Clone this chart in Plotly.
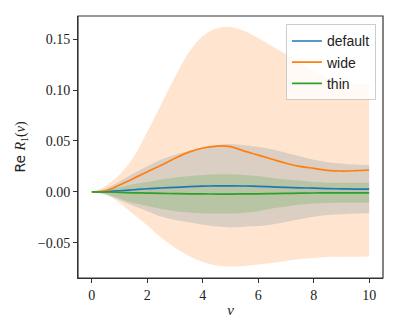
import plotly.graph_objects as go

# nu grid
nu = [0.0, 0.5, 1.0, 1.5, 2.0, 2.5, 3.0, 3.5, 4.0, 4.5, 5.0,
      5.5, 6.0, 6.5, 7.0, 7.5, 8.0, 8.5, 9.0, 9.5, 10.0]

# mean curves
default_mean = [0.0, 0.0002, 0.001, 0.002, 0.003, 0.0037, 0.0043, 0.005, 0.0055, 0.0058, 0.0059,
                0.0057, 0.0053, 0.0048, 0.0043, 0.0039, 0.0035, 0.0031, 0.0029, 0.0027, 0.0026]
wide_mean = [0.0, 0.001, 0.0066, 0.013, 0.0197, 0.026, 0.033, 0.039, 0.043, 0.0449, 0.0443,
             0.040, 0.036, 0.032, 0.028, 0.025, 0.023, 0.021, 0.0204, 0.0207, 0.0214]
thin_mean = [0.0, -0.0002, -0.0006, -0.001, -0.0013, -0.0016, -0.0018, -0.002, -0.0021, -0.0022, -0.0022,
             -0.0021, -0.002, -0.0018, -0.0016, -0.0014, -0.0012, -0.0011, -0.001, -0.001, -0.001]

# band edges
default_upper = [0.0, 0.0032, 0.010, 0.018, 0.025, 0.0317, 0.0363, 0.040, 0.0435, 0.0458, 0.0469,
                 0.0457, 0.0443, 0.0418, 0.0383, 0.0349, 0.0315, 0.0291, 0.0279, 0.0267, 0.0263]
default_lower = [0.0, -0.0028, -0.008, -0.014, -0.019, -0.0243, -0.0277, -0.030, -0.0325, -0.0342, -0.0351,
                 -0.0343, -0.0337, -0.0322, -0.0297, -0.0271, -0.0245, -0.0229, -0.0221, -0.0213, -0.0211]
wide_upper = [0.0, 0.006, 0.017, 0.034, 0.059, 0.086, 0.113, 0.137, 0.153, 0.1605, 0.1617,
              0.158, 0.151, 0.143, 0.135, 0.127, 0.119, 0.112, 0.108, 0.106, 0.106]
wide_lower = [0.0, -0.003, -0.011, -0.022, -0.033, -0.045, -0.055, -0.063, -0.069, -0.0725, -0.0735,
              -0.073, -0.0715, -0.070, -0.068, -0.066, -0.065, -0.064, -0.064, -0.0638, -0.0635]
thin_upper = [0.0, 0.0015, 0.0045, 0.0075, 0.0095, 0.012, 0.014, 0.0155, 0.0165, 0.0172, 0.0172,
              0.0165, 0.0155, 0.0135, 0.012, 0.011, 0.0095, 0.009, 0.0089, 0.0089, 0.0089]
thin_lower = [0.0, -0.002, -0.0065, -0.011, -0.014, -0.017, -0.019, -0.0203, -0.021, -0.0214, -0.0214,
              -0.0205, -0.019, -0.0165, -0.0145, -0.0128, -0.0115, -0.011, -0.0108, -0.0108, -0.0108]

names = ["default", "wide", "thin"]
colors = ["#1f77b4", "#ff7f0e", "#2ca02c"]
fills = ["rgba(31,119,180,0.2)", "rgba(255,127,14,0.2)", "rgba(44,160,44,0.2)"]
means = [default_mean, wide_mean, thin_mean]
uppers = [default_upper, wide_upper, thin_upper]
lowers = [default_lower, wide_lower, thin_lower]

fig = go.Figure()

# shaded bands first
for up, lo, fc in zip(uppers, lowers, fills):
    fig.add_trace(go.Scatter(x=nu, y=up, mode="lines", line=dict(width=0, shape="spline"),
                             showlegend=False, hoverinfo="skip"))
    fig.add_trace(go.Scatter(x=nu, y=lo, mode="lines", line=dict(width=0, shape="spline"),
                             fill="tonexty", fillcolor=fc, showlegend=False, hoverinfo="skip"))

# mean lines on top
for name, m, c in zip(names, means, colors):
    fig.add_trace(go.Scatter(x=nu, y=m, mode="lines", name=name,
                             line=dict(color=c, width=1.7, shape="spline")))

axis_style = dict(
    showline=True, linecolor="#333", linewidth=1, mirror=False, automargin=False,
    ticks="outside", ticklen=4, tickcolor="#333", showgrid=False, zeroline=False,
    tickfont=dict(family="Liberation Serif", size=14, color="#222"),
)

# frame around the axes, like matplotlib spines
fig.add_shape(type="rect", xref="paper", yref="paper", x0=0, x1=1, y0=0, y1=1,
              line=dict(color="#333", width=1.2), fillcolor="rgba(0,0,0,0)", layer="above")

# page body has an 8px margin, so the figure is 8px smaller than the window
fig.update_layout(
    width=391, height=324,
    margin=dict(l=70, r=16, t=8, b=54),
    paper_bgcolor="white", plot_bgcolor="white",
    xaxis=dict(range=[-0.5, 10.5], tickvals=[0, 2, 4, 6, 8, 10],
               title=dict(text="<i>ν</i>", standoff=2,
                          font=dict(family="Liberation Serif", size=15, color="#222")),
               **axis_style),
    yaxis=dict(range=[-0.0847, 0.1727], tickvals=[-0.05, 0.0, 0.05, 0.10, 0.15], tickformat=".2f",
               title=dict(text="Re <span style='font-family:Liberation Serif'><i>R</i><sub>1</sub>(<i>ν</i>)</span>",
                          standoff=8,
                          font=dict(family="DejaVu Sans", size=14, color="#222")),
               **axis_style),
    legend=dict(x=0.977, y=0.968, xanchor="right", yanchor="top", traceorder="normal",
                bgcolor="rgba(255,255,255,0.8)", bordercolor="#ccc", borderwidth=1,
                font=dict(family="Liberation Sans", size=14, color="#222")),
    showlegend=True,
)

fig.write_html("out.html")
